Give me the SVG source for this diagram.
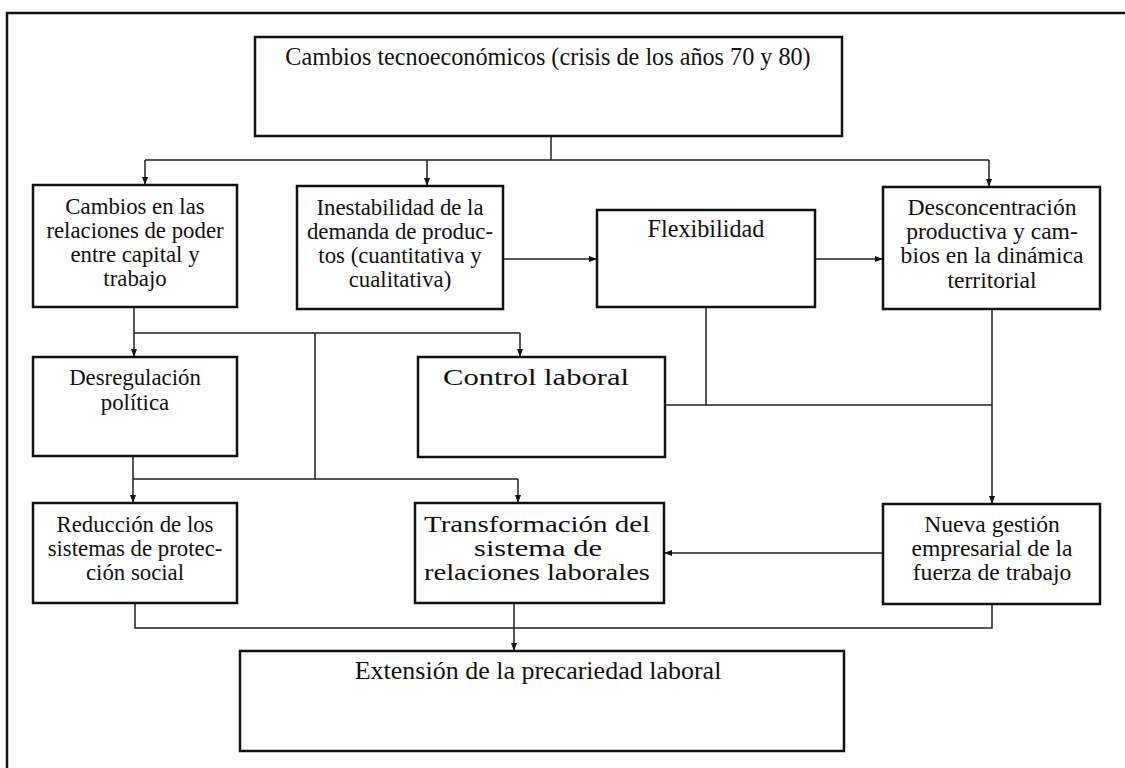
<svg xmlns="http://www.w3.org/2000/svg" width="1125" height="768" viewBox="0 0 1125 768">
<defs>
<marker id="ah" markerUnits="userSpaceOnUse" markerWidth="8" markerHeight="8" viewBox="0 0 8 8" refX="8" refY="4" orient="auto">
<path d="M0,1 L8,4 L0,7 Z" fill="#111"/>
</marker>
<style>
.box{fill:#fff;stroke:#111;stroke-width:2.5}
.ln{fill:none;stroke:#222;stroke-width:1.5}
.ar{fill:none;stroke:#222;stroke-width:1.5;marker-end:url(#ah)}
text{font-family:"Liberation Serif","Times New Roman",serif;font-size:22.8px;fill:#111;text-anchor:middle}
.lg{font-size:24.2px}
.md{font-size:23.6px}
.xl{font-size:26px}
.wd{font-size:23.6px}
</style>
</defs>
<rect width="1125" height="768" fill="#fff"/>
<path d="M7,768 V13 H1125" fill="none" stroke="#111" stroke-width="2.5"/>

<g id="connectors">
<path class="ln" d="M551,136 V160 M145,160 H989"/>
<path class="ar" d="M145,160 V185"/>
<path class="ar" d="M427,160 V186"/>
<path class="ar" d="M989,160 V187"/>
<path class="ar" d="M503,259 H597"/>
<path class="ar" d="M815,259 H883"/>
<path class="ln" d="M134,307 V333 M134,333 H520 M315,333 V479"/>
<path class="ar" d="M134,333 V357"/>
<path class="ar" d="M520,333 V357"/>
<path class="ln" d="M706,307 V405 M665,405 H992"/>
<path class="ar" d="M992,309 V504"/>
<path class="ln" d="M133,456 V479 M133,479 H518"/>
<path class="ar" d="M133,479 V503"/>
<path class="ar" d="M518,479 V503"/>
<path class="ar" d="M883,553 H664"/>
<path class="ln" d="M135,603 V628 H992 V604"/>
<path class="ar" d="M514,603 V651"/>
</g>

<g id="n-top">
<rect class="box" x="255" y="37" width="587" height="99"/>
<text class="lg" x="548" y="65">Cambios tecnoeconómicos (crisis de los años 70 y 80)</text>
</g>
<g id="n-poder">
<rect class="box" x="33" y="185" width="204" height="122"/>
<text x="135" y="214">Cambios en las</text>
<text x="135" y="238">relaciones de poder</text>
<text x="135" y="262">entre capital y</text>
<text x="135" y="286">trabajo</text>
</g>
<g id="n-inestabilidad">
<rect class="box" x="297" y="186" width="206" height="123"/>
<text x="400" y="215">Inestabilidad de la</text>
<text x="400" y="239">demanda de produc-</text>
<text x="400" y="263">tos (cuantitativa y</text>
<text x="400" y="287">cualitativa)</text>
</g>
<g id="n-flex">
<rect class="box" x="597" y="210" width="218" height="97"/>
<text class="lg" x="706" y="237">Flexibilidad</text>
</g>
<g id="n-desconc">
<rect class="box" x="883" y="187" width="217" height="122"/>
<text class="md" x="992" y="215">Desconcentración</text>
<text class="md" x="992" y="239">productiva y cam-</text>
<text class="md" x="992" y="263">bios en la dinámica</text>
<text class="md" x="992" y="288">territorial</text>
</g>
<g id="n-desreg">
<rect class="box" x="33" y="357" width="204" height="99"/>
<text x="135" y="385">Desregulación</text>
<text x="135" y="410">política</text>
</g>
<g id="n-control">
<rect class="box" x="418" y="357" width="247" height="100"/>
<text class="wd" x="536" y="385" textLength="186" lengthAdjust="spacingAndGlyphs">Control laboral</text>
</g>
<g id="n-reduccion">
<rect class="box" x="33" y="503" width="204" height="100"/>
<text x="135" y="532">Reducción de los</text>
<text x="135" y="556">sistemas de protec-</text>
<text x="135" y="580">ción social</text>
</g>
<g id="n-transf">
<rect class="box" x="415" y="503" width="249" height="100"/>
<text class="wd" x="537" y="532" textLength="226" lengthAdjust="spacingAndGlyphs">Transformación del</text>
<text class="wd" x="538" y="556" textLength="128" lengthAdjust="spacingAndGlyphs">sistema de</text>
<text class="wd" x="537" y="580" textLength="226" lengthAdjust="spacingAndGlyphs">relaciones laborales</text>
</g>
<g id="n-nueva">
<rect class="box" x="883" y="504" width="217" height="100"/>
<text class="md" x="992" y="532">Nueva gestión</text>
<text class="md" x="992" y="556">empresarial de la</text>
<text class="md" x="992" y="580">fuerza de trabajo</text>
</g>
<g id="n-extension">
<rect class="box" x="240" y="651" width="604" height="100"/>
<text class="xl" x="538" y="679">Extensión de la precariedad laboral</text>
</g>
</svg>
